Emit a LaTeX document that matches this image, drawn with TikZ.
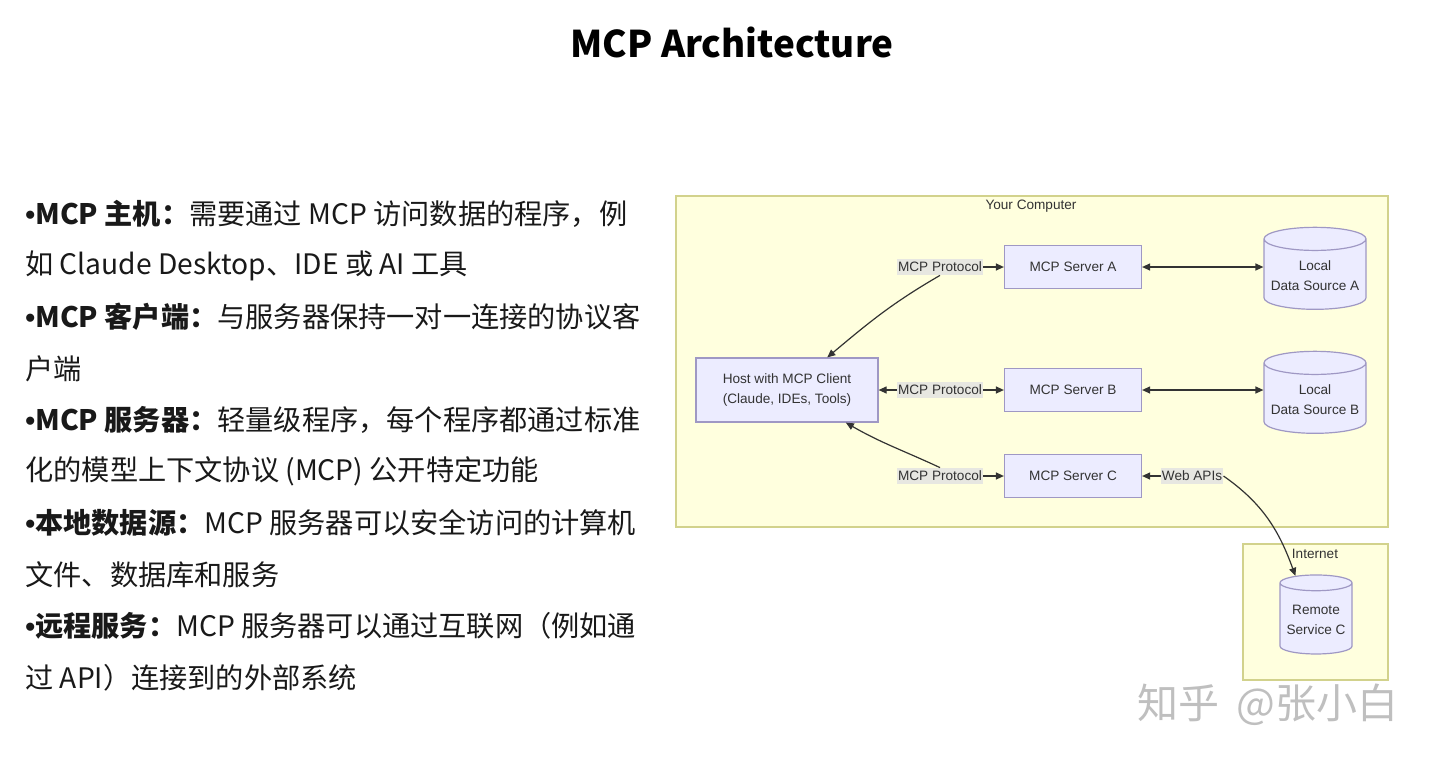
\documentclass[tikz,border=0pt]{standalone}
\usepackage{fontspec}
\setmainfont{Liberation Sans}
\newfontfamily\cjk{Noto Sans CJK SC}
\usetikzlibrary{shapes.geometric,arrows.meta}
\definecolor{ink}{HTML}{333333}
\definecolor{boxfill}{HTML}{ECECFF}
\definecolor{boxline}{HTML}{9F98C4}
\definecolor{zonefill}{HTML}{FFFFDE}
\definecolor{zoneline}{HTML}{D2D28C}
\definecolor{tagfill}{HTML}{E2E2E2}
\newcommand\dotb{{\rmfamily\bfseries •}}
\tikzset{
  every node/.style={text=ink, font=\fontsize{6.8}{10}\selectfont},
  zone/.style={draw=zoneline, fill=zonefill, line width=0.6pt},
  srv/.style={draw=boxline, fill=boxfill, line width=0.6pt, minimum width=68.5pt, minimum height=21.5pt, inner sep=0pt},
  db/.style={cylinder, shape border rotate=90, aspect=0.25, draw=boxline, fill=boxfill, line width=0.6pt, align=center, inner sep=1pt},
  tag/.style={fill=tagfill, fill opacity=0.8, text opacity=1, inner xsep=0.5pt, inner ysep=1.5pt},
  conn/.style={draw=ink, line width=0.6pt, -{Triangle[length=4pt,width=3.5pt]}},
  biconn/.style={conn, {Triangle[length=4pt,width=3.5pt]}-{Triangle[length=4pt,width=3.5pt]}},
  para/.style={anchor=west, font=\cjk\fontsize{14.1}{17}\selectfont, text=black!90, inner sep=0pt}
}
\begin{document}
\begin{tikzpicture}[x=0.5pt,y=-0.5pt]
\fill[white] (0,0) rectangle (1440,761);
\useasboundingbox (0,0) rectangle (1440,761);
\node[font=\cjk\bfseries\fontsize{18.4}{22}\selectfont, text=black] (title) at (732,42) {MCP Architecture};
% bullets
\foreach \t [count=\i] in {{\textbf{\dotb MCP 主机：}需要通过 MCP 访问数据的程序，例},
    {如 Claude Desktop、IDE 或 AI 工具},
    {\textbf{\dotb MCP 客户端：}与服务器保持一对一连接的协议客},
    {户端},
    {\textbf{\dotb MCP 服务器：}轻量级程序，每个程序都通过标准},
    {化的模型上下文协议 (MCP) 公开特定功能},
    {\textbf{\dotb 本地数据源：}MCP 服务器可以安全访问的计算机},
    {文件、数据库和服务},
    {\textbf{\dotb 远程服务：}MCP 服务器可以通过互联网（例如通},
    {过 API）连接到的外部系统}}
  \node[para] (line\i) at (25,{214+51.5*(\i-1)}) {\t};
% Your Computer / Internet
\draw[zone] (676,196) rectangle (1388,527);
\draw[zone] (1243,544) rectangle (1388,680);
\node (comp) at (1031,206) {Your Computer};
\node (net) at (1315,554) {Internet};
\node[srv, minimum width=91pt, minimum height=32pt, align=center] (host) at (787,390) {Host with MCP Client\\(Claude, IDEs, Tools)};
\node[srv] (srvA) at (1073,267) {MCP Server A};
\node[srv] (srvB) at (1073,390) {MCP Server B};
\node[srv] (srvC) at (1073,476) {MCP Server C};
\node[db, minimum width=51pt, minimum height=41pt] (dsA) at (1315,276) {Local\\Data Source A};
\node[db, minimum width=51pt, minimum height=41pt] (dsB) at (1315,400) {Local\\Data Source B};
\node[db, minimum width=36pt, minimum height=39.5pt] (rsC) at (1316,620) {Remote\\Service C};
\node[tag] (pA) at (940,267) {MCP Protocol};
\node[tag] (pB) at (940,390) {MCP Protocol};
\node[tag] (pC) at (940,476) {MCP Protocol};
\node[tag] (web) at (1192,476) {Web APIs};
% links
\draw[conn] (pA) -- (srvA);
\draw[conn] (pA.south) to[out=210,in=40] (host.39);
\draw[conn] (pB) -- (srvB);
\draw[conn] (pB) -- (host);
\draw[conn] (pC) -- (srvC);
\draw[conn] (pC.north) to[out=155,in=-30] (host.-29);
\draw[biconn] (srvA) -- (dsA.west |- srvA);
\draw[biconn] (srvB) -- (dsB.west |- srvB);
\draw[conn] (web) -- (srvC);
\draw[conn] (web.east) to[out=-35,in=110] (rsC.115);
\node[font=\cjk\fontsize{20.5}{22}\selectfont, text=black!25] (mark) at (1268,705) {知乎\hspace{0.4em}@张小白};
\end{tikzpicture}
\end{document}
